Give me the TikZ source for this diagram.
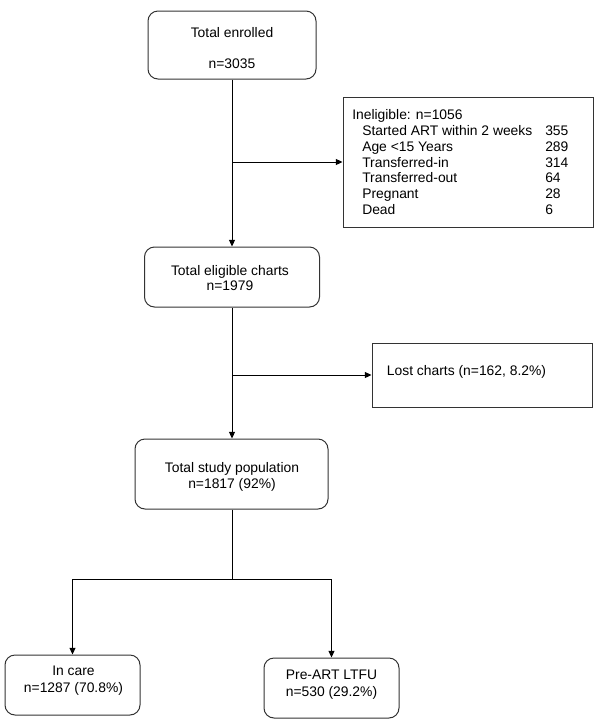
\documentclass[tikz,border=0pt]{standalone}
\usepackage{fontspec}
\setmainfont{Liberation Sans}
\usetikzlibrary{arrows.meta}
\begin{document}
\begin{tikzpicture}[x=0.75pt,y=-0.75pt,
 box/.style={draw=black!80, line width=0.75pt, rounded corners=7.5pt, inner sep=0pt},
 sqbox/.style={draw=black!80, line width=0.75pt, inner sep=0pt},
 txt/.style={anchor=base, inner sep=0pt, font=\fontsize{10.4}{12}\selectfont},
 ltxt/.style={anchor=base west, inner sep=0pt, font=\fontsize{10.4}{12}\selectfont},
 conn/.style={line width=0.75pt},
 arr/.style={conn, -{Triangle[length=5pt,width=4.5pt]}}]
\useasboundingbox (0,0) rectangle (600,726);

% boxes
\node[box, minimum width=126pt, minimum height=51pt] (top) at (232,45) {};
\node[box, minimum width=131.25pt, minimum height=45pt] (elig) at (232,277) {};
\node[box, minimum width=144.75pt, minimum height=52.5pt] (study) at (231.5,474) {};
\node[box, minimum width=101.25pt, minimum height=45pt] (incare) at (72.5,685) {};
\node[box, minimum width=101.25pt, minimum height=45pt] (preart) at (331.5,688) {};
\node[sqbox, minimum width=187.5pt, minimum height=97.5pt] (inel) at (468,162) {};
\node[sqbox, minimum width=165pt, minimum height=48pt] (lost) at (482,375) {};

% texts
\node[txt] (t1a) at (232,37) {Total enrolled};
\node[txt] (t1b) at (232,68) {n=3035};
\node[txt] (t2a) at (230,275) {Total eligible charts};
\node[txt] (t2b) at (230,290) {n=1979};
\node[txt] (t3a) at (232,472) {Total study population};
\node[txt] (t3b) at (232,488) {n=1817 (92\%)};
\node[txt] (t4a) at (73.5,675) {In care};
\node[txt] (t4b) at (73.5,692) {n=1287 (70.8\%)};
\node[txt] (t5a) at (331.5,679) {Pre-ART LTFU};
\node[txt] (t5b) at (331.5,696) {n=530 (29.2\%)};
\node[txt] (t6) at (466.5,375) {Lost charts (n=162, 8.2\%)};

\node[ltxt] (i0) at (352,119) {Ineligible: n=1056};
\node[ltxt] (i1) at (362,135) {Started ART within 2 weeks};
\node[ltxt] (i2) at (362,151) {Age <15 Years};
\node[ltxt] (i3) at (362,167) {Transferred-in};
\node[ltxt] (i4) at (362,182) {Transferred-out};
\node[ltxt] (i5) at (362,198) {Pregnant};
\node[ltxt] (i6) at (362,214) {Dead};
\node[ltxt] (n1) at (545,135) {355};
\node[ltxt] (n2) at (545,151) {289};
\node[ltxt] (n3) at (545,167) {314};
\node[ltxt] (n4) at (545,182) {64};
\node[ltxt] (n5) at (545,198) {28};
\node[ltxt] (n6) at (545,214) {6};

% connectors
\coordinate (b1) at (232,162);
\coordinate (b2) at (232,375);
\coordinate (split) at (232,579);
\draw[arr] (top.south) -- (elig.north);
\draw[arr] (b1) -- (inel.west);
\draw[arr] (elig.south) -- (elig.south |- study.north);
\draw[arr] (b2) -- (lost.west);
\draw[conn] (study.south -| split) -- (split);
\draw[arr] (split) -| (incare.north);
\draw[arr] (split) -| (preart.north);
\end{tikzpicture}
\end{document}
